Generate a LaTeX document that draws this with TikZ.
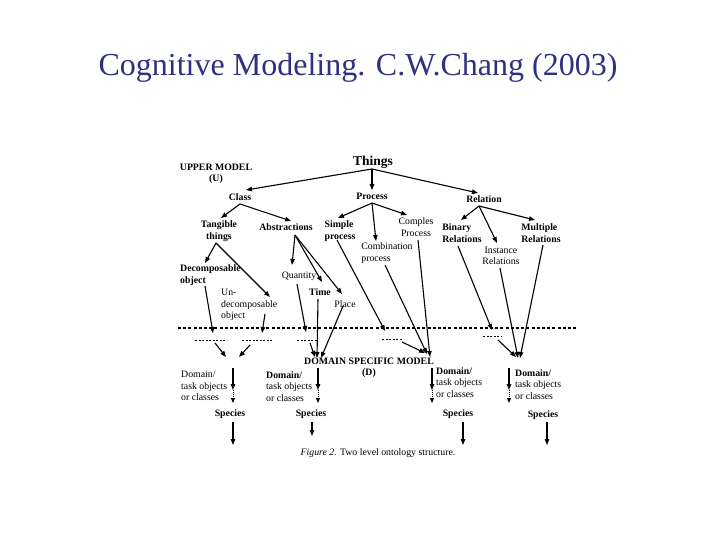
\documentclass[tikz,border=0pt]{standalone}
\usepackage{fontspec}
\setmainfont{Liberation Serif}
\usetikzlibrary{arrows.meta}
\definecolor{titleblue}{RGB}{48,48,128}
\begin{document}
\begin{tikzpicture}[x=1pt,y=-1pt,
  lbl/.style={inner sep=0pt,align=center,font=\bfseries\fontsize{9.8}{11.5}\selectfont},
  reg/.style={inner sep=0pt,align=center,font=\fontsize{9.8}{11.5}\selectfont},
  arr/.style={line width=1.1pt,-{Triangle[length=6pt,width=4.5pt]}},
  dotarr/.style={line width=1pt,densely dotted,-{Triangle[length=5pt,width=4pt]}},
  sep/.style={line width=2pt,dash pattern=on 3pt off 2.2pt},
  shortdash/.style={line width=0.8pt,dash pattern=on 2pt off 1.5pt}]
\useasboundingbox (0,0) rectangle (720,540);
% title
\node[inner sep=0pt,text=titleblue,font=\fontsize{32}{34}\selectfont] (title) at (358,68) {Cognitive Modeling. C.W.Chang (2003)};
% upper model
\node[lbl] (upper) at (216,174) {UPPER MODEL\\(U)};
\node[inner sep=0pt,font=\bfseries\fontsize{13.5}{14}\selectfont] (things) at (373,162) {Things};
\node[lbl] (class) at (240,197) {Class};
\node[lbl] (process) at (372,196) {Process};
\node[lbl] (relation) at (484,199) {Relation};
\node[lbl] (tangible) at (219,231) {Tangible\\things};
\node[lbl] (abstr) at (286,227) {Abstractions};
\node[lbl,align=left] (simple) at (340,231) {Simple\\process};
\node[reg] (complex) at (416,227) {Comples\\Process};
\node[reg,align=left] (combo) at (387,253) {Combination\\process};
\node[lbl,align=left] (binary) at (462,233) {Binary\\Relations};
\node[reg] (instance) at (501,256) {Instance\\Relations};
\node[lbl,align=left] (multiple) at (541,233) {Multiple\\Relations};
\node[lbl,align=left,anchor=west] (decomp) at (180,275) {Decomposable\\object};
\node[reg] (quantity) at (299,276) {Quantity};
\node[lbl] (time) at (320,292) {Time};
\node[reg] (place) at (345,304) {Place};
\node[reg,align=left,anchor=west] (undecomp) at (221,305) {Un-\\decomposable\\object};
% separator and short dashes
\coordinate (sepL) at (178,328); \coordinate (sepR) at (577,328);
\draw[sep] (sepL) -- (sepR);
\coordinate (d1a) at (195,340); \coordinate (d1b) at (225,340);
\coordinate (d2a) at (242,340); \coordinate (d2b) at (272,340);
\coordinate (d3a) at (297,340); \coordinate (d3b) at (318,340);
\coordinate (d4a) at (382,339); \coordinate (d4b) at (402,339);
\coordinate (d5a) at (483,336); \coordinate (d5b) at (502,336);
\draw[shortdash] (d1a) -- (d1b);
\draw[shortdash] (d2a) -- (d2b);
\draw[shortdash] (d3a) -- (d3b);
\draw[shortdash] (d4a) -- (d4b);
\draw[shortdash] (d5a) -- (d5b);
% domain model
\node[lbl] (dsm) at (369,368) {DOMAIN SPECIFIC MODEL\\(D)};
% connector end points
\coordinate (thO) at (372,169);
\coordinate (clI) at (246,190); \coordinate (prI) at (372,190); \coordinate (reI) at (478,193);
\coordinate (clO) at (240,204);
\coordinate (taI) at (221,218); \coordinate (abI) at (291,221);
\coordinate (prO) at (372,203);
\coordinate (siI) at (338,218); \coordinate (coI) at (376,241); \coordinate (cxI) at (407,215);
\coordinate (reO) at (479,206);
\coordinate (biI) at (461,220); \coordinate (inI) at (497,243); \coordinate (muI) at (535,220);
\coordinate (taO) at (216,243);
\coordinate (deI) at (205,263); \coordinate (unI) at (270,297);
\coordinate (abO) at (295,235);
\coordinate (quI) at (292,265); \coordinate (tiI) at (322,282); \coordinate (plI) at (342,294);
\coordinate (siO) at (337,240); \coordinate (siD) at (385,331);
\coordinate (coO) at (385,265); \coordinate (dmB) at (427,354);
\coordinate (cxO) at (418,240); \coordinate (dmB2) at (430,357);
\coordinate (d4O) at (402,342); \coordinate (dmB3) at (425,353);
\coordinate (deO) at (205,286); \coordinate (deD) at (213,333);
\coordinate (unO) at (265,314); \coordinate (unD) at (262,333);
\coordinate (quO) at (297,284); \coordinate (quD) at (306,332);
\coordinate (tiO) at (318,299); \coordinate (dmA) at (317,358);
\coordinate (plO) at (343,306); \coordinate (dmA2) at (321,358);
\coordinate (d3O) at (310,343); \coordinate (dmA3) at (315,357);
\coordinate (d1O) at (215,343); \coordinate (lfA) at (226,357);
\coordinate (d2O) at (250,345); \coordinate (lfB) at (239,357);
\coordinate (biO) at (458,246); \coordinate (biD) at (492,330);
\coordinate (inO) at (500,268); \coordinate (rtA) at (518,358);
\coordinate (muO) at (543,245); \coordinate (rtB) at (520,358);
\coordinate (d5O) at (498,340); \coordinate (rtC) at (516,357);
% upper arrows
\draw[arr] (thO) -- (clI);
\draw[arr] (thO) -- (prI);
\draw[arr] (thO) -- (reI);
\draw[arr] (clO) -- (taI);
\draw[arr] (clO) -- (abI);
\draw[arr] (prO) -- (siI);
\draw[arr] (prO) -- (coI);
\draw[arr] (prO) -- (cxI);
\draw[arr] (reO) -- (biI);
\draw[arr] (reO) -- (inI);
\draw[arr] (reO) -- (muI);
\draw[arr] (taO) -- (deI);
\draw[arr] (taO) -- (unI);
\draw[arr] (abO) -- (quI);
\draw[arr] (abO) -- (tiI);
\draw[arr] (abO) -- (plI);
\draw[arr] (siO) -- (siD);
\draw[arr] (coO) -- (dmB);
\draw[arr] (cxO) -- (dmB2);
\draw[arr] (d4O) -- (dmB3);
\draw[arr] (deO) -- (deD);
\draw[arr] (unO) -- (unD);
\draw[arr] (quO) -- (quD);
\draw[arr] (tiO) -- (dmA);
\draw[arr] (plO) -- (dmA2);
\draw[arr] (d3O) -- (dmA3);
\draw[arr] (d1O) -- (lfA);
\draw[arr] (d2O) -- (lfB);
\draw[arr] (biO) -- (biD);
\draw[arr] (inO) -- (rtA);
\draw[arr] (muO) -- (rtB);
\draw[arr] (d5O) -- (rtC);
% lower columns
\node[reg,align=left,anchor=north west] (dt1) at (181,371) {Domain/\\task objects\\or classes};
\node[reg,align=left,anchor=north west] (dt2) at (266,371) {\textbf{Domain/}\\task objects\\or classes};
\node[reg,align=left,anchor=north west] (dt3) at (436,367) {\textbf{Domain/}\\task objects\\or classes};
\node[reg,align=left,anchor=north west] (dt4) at (515,369) {\textbf{Domain/}\\task objects\\or classes};
\node[lbl] (sp1) at (230,414) {Species};
\node[lbl] (sp2) at (311,414) {Species};
\node[lbl] (sp3) at (458,414) {Species};
\node[lbl] (sp4) at (543,415) {Species};
\foreach \i/\x in {1/233,2/318,3/432,4/509}{
  \coordinate (c\i a) at (\x,368);
  \coordinate (c\i b) at (\x,390);
  \coordinate (c\i c) at (\x,403);
  \draw[arr] (c\i a) -- (c\i b);
  \draw[dotarr] (c\i b) -- (c\i c);
}
\coordinate (s1a) at (233,422); \coordinate (s1b) at (233,445);
\coordinate (s2a) at (312,422); \coordinate (s2b) at (312,436);
\coordinate (s3a) at (463,422); \coordinate (s3b) at (463,445);
\coordinate (s4a) at (547,422); \coordinate (s4b) at (547,445);
\draw[arr] (s1a) -- (s1b);
\draw[arr] (s2a) -- (s2b);
\draw[arr] (s3a) -- (s3b);
\draw[arr] (s4a) -- (s4b);
% caption
\node[inner sep=0pt,font=\fontsize{9.8}{11}\selectfont] (caption) at (378,453) {\textit{Figure 2.} Two level ontology structure.};
\end{tikzpicture}
\end{document}
